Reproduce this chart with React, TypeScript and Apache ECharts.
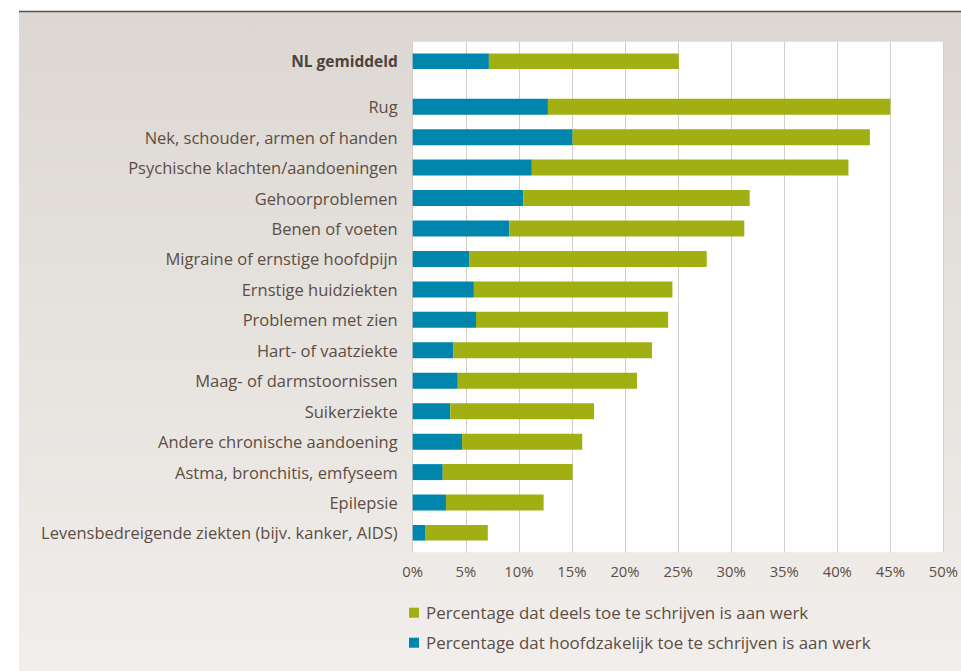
import React, { useEffect, useRef } from "react";
import * as echarts from "echarts";

const categories = [
  "NL gemiddeld",
  "Rug",
  "Nek, schouder, armen of handen",
  "Psychische klachten/aandoeningen",
  "Gehoorproblemen",
  "Benen of voeten",
  "Migraine of ernstige hoofdpijn",
  "Ernstige huidziekten",
  "Problemen met zien",
  "Hart- of vaatziekte",
  "Maag- of darmstoornissen",
  "Suikerziekte",
  "Andere chronische aandoening",
  "Astma, bronchitis, emfyseem",
  "Epilepsie",
  "Levensbedreigende ziekten (bijv. kanker, AIDS)",
];

// percentage mainly attributable to work (blue)
const hoofdzakelijk = [7.1, 12.6, 14.9, 11.1, 10.3, 9.0, 5.3, 5.7, 5.9, 3.8, 4.2, 3.5, 4.6, 2.8, 3.1, 1.2];
// percentage partly attributable to work (green segment)
const deels = [17.7, 31.9, 27.7, 29.5, 21.1, 21.9, 22.1, 18.5, 17.9, 18.5, 16.7, 13.4, 11.2, 12.1, 9.1, 5.8];

const xTicks = [0, 5, 10, 15, 20, 25, 30, 35, 40, 45, 50];

const nameDeels = "Percentage dat deels toe te schrijven is aan werk";
const nameHoofd = "Percentage dat hoofdzakelijk toe te schrijven is aan werk";

const FONT = "Open Sans";
const TEXT = "#5b4e44";

// slot index of each category on a half-row category axis (gap of 1.5 rows after the average)
const slotOf = (i: number) => (i === 0 ? 0 : 3 + (i - 1) * 2);
const SLOTS = 32;

export default function App() {
  const ref = useRef<HTMLDivElement>(null);
  useEffect(() => {
    if (!ref.current) return;
    const chart = echarts.init(ref.current, undefined, { renderer: "svg" });

    const slotNames: string[] = [];
    const blueData: any[] = [];
    const greenData: any[] = [];
    for (let s = 0; s < SLOTS; s++) {
      slotNames.push("gap" + s);
      blueData.push("-");
      greenData.push("-");
    }
    categories.forEach((c, i) => {
      const s = slotOf(i);
      slotNames[s] = c;
      blueData[s] = hoofdzakelijk[i];
      greenData[s] = deels[i];
    });

    chart.setOption({
      animation: false,
      textStyle: { fontFamily: FONT },
      graphic: [
        {
          type: "rect",
          z: -10,
          shape: { x: 19, y: 12, width: 942, height: 659 },
          style: {
            fill: new echarts.graphic.LinearGradient(0, 0, 0, 1, [
              { offset: 0, color: "#dcd7d2" },
              { offset: 1, color: "#f1eeeb" },
            ]),
          },
        },
        {
          type: "line",
          z: -9,
          shape: { x1: 19, y1: 11.5, x2: 961, y2: 11.5 },
          style: { stroke: "#5a4f48", lineWidth: 1.5 },
        },
      ],
      grid: [
        {
          left: 412.7,
          right: 11.7,
          top: 41.7,
          bottom: 118.7,
          show: true,
          backgroundColor: "#ffffff",
          borderWidth: 0,
        },
        {
          left: 412.7,
          right: 11.7,
          top: 53.4,
          bottom: 130.4,
        },
      ],
      xAxis: [
        {
          type: "value",
          gridIndex: 0,
          min: xTicks[0],
          max: xTicks[xTicks.length - 1],
          interval: xTicks[1] - xTicks[0],
          axisLine: { show: false },
          axisTick: { show: false },
          splitLine: { show: true, lineStyle: { color: "#d6cdc7", width: 1 } },
          axisLabel: {
            formatter: "{value}%",
            color: TEXT,
            fontSize: 14.8,
            fontFamily: FONT,
            margin: 11,
          },
        },
        {
          type: "value",
          gridIndex: 1,
          min: xTicks[0],
          max: xTicks[xTicks.length - 1],
          show: false,
        },
      ],
      yAxis: [
        { type: "value", gridIndex: 0, show: false },
        {
          type: "category",
          gridIndex: 1,
          inverse: true,
          data: slotNames,
          axisLine: { show: false },
          axisTick: { show: false },
          splitLine: { show: false },
          axisLabel: {
            interval: 0,
            margin: 15,
            color: TEXT,
            fontSize: 16.5,
            fontFamily: FONT,
            formatter: (v: string) =>
              v.startsWith("gap") ? "" : v === categories[0] ? "{b|" + v + "}" : v,
            rich: {
              b: { fontWeight: "bold", color: "#4f433a", fontSize: 15.5, fontFamily: FONT },
            },
          },
        },
      ],
      legend: {
        orient: "vertical",
        left: 409,
        top: 602.7,
        padding: 0,
        itemGap: 10,
        itemWidth: 10,
        itemHeight: 10,
        icon: "rect",
        data: [nameDeels, nameHoofd],
        textStyle: { color: TEXT, fontSize: 16.9, fontFamily: FONT, lineHeight: 20, padding: [0, 0, 0, 2] },
      },
      series: [
        {
          name: nameHoofd,
          type: "bar",
          stack: "t",
          xAxisIndex: 1,
          yAxisIndex: 1,
          barWidth: 16,
          itemStyle: { color: "#0085ad" },
          data: blueData,
        },
        {
          name: nameDeels,
          type: "bar",
          stack: "t",
          xAxisIndex: 1,
          yAxisIndex: 1,
          barWidth: 16,
          itemStyle: { color: "#a2af12" },
          data: greenData,
        },
      ],
    });
    return () => chart.dispose();
  }, []);
  return (
    <div
      ref={ref}
      style={{ position: "absolute", left: 0, top: 0, width: 961, height: 671, background: "#ffffff" }}
    />
  );
}
